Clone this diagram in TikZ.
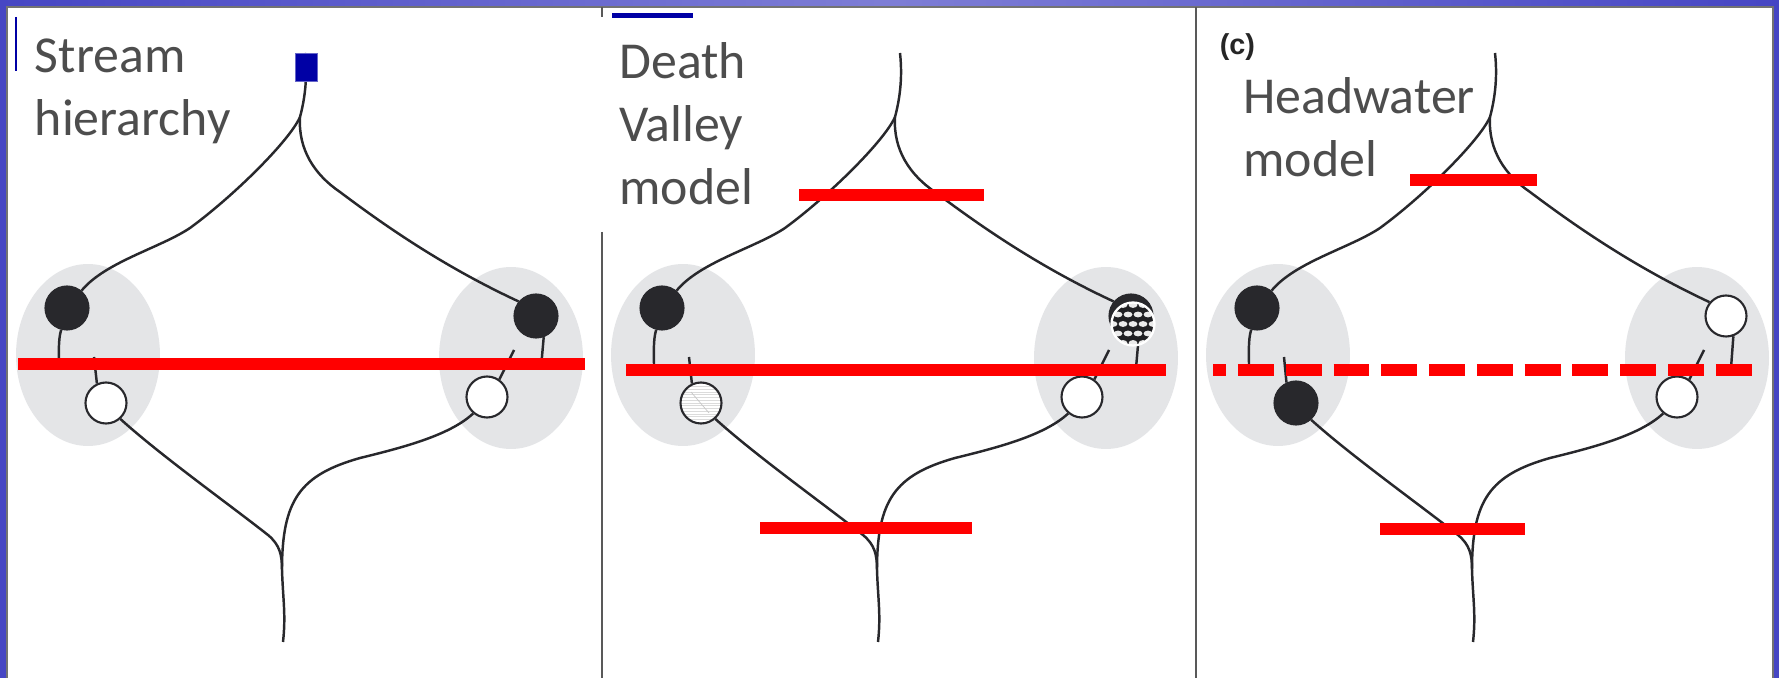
\documentclass[tikz,border=0pt]{standalone}
\usepackage{fontspec}
\newfontfamily\slidefont{Carlito}
\newfontfamily\panelfont{Liberation Sans}
\usetikzlibrary{shapes.geometric}
\definecolor{slideblue}{RGB}{70,70,196}
\definecolor{markblue}{RGB}{0,0,165}
\definecolor{lakegray}{RGB}{228,229,231}
\definecolor{inkgray}{RGB}{40,40,44}
\definecolor{labelgray}{RGB}{77,77,77}
\definecolor{cutred}{RGB}{255,0,0}
\tikzset{
  lake/.style = {
    ellipse, fill=lakegray, inner sep=0pt,
    minimum width=2.88cm, minimum height=3.64cm,
  },
  blackdot/.style = {
    circle, draw=inkgray, fill=inkgray, line width=1.2pt,
    inner sep=0pt, minimum size=0.86cm,
  },
  whitedot/.style = {
    circle, draw=inkgray, fill=white, line width=1.2pt,
    inner sep=0pt, minimum size=0.82cm,
  },
  stripedot/.style = {
    whitedot,
    path picture={
      \foreach \k in {-7,...,7}
        \draw[black!14, line width=0.4pt]
          ([yshift=\k*0.055cm]path picture bounding box.west) --
          ([yshift=\k*0.055cm]path picture bounding box.east);
      \draw[black!22, line width=0.4pt]
        ([shift={(-0.2cm,0.22cm)}]path picture bounding box.center) --
        ([shift={(0.16cm,-0.2cm)}]path picture bounding box.center);
    },
  },
  meshdot/.style = {
    circle, draw=white, fill=inkgray!80!black, line width=1.3pt,
    inner sep=0pt, minimum size=0.86cm,
    path picture={
      \foreach \r in {-2,0,2} \foreach \c in {-2,...,2}
        \fill[black!8] ([shift={(\c*0.2cm,\r*0.19cm)}]path picture bounding box.center)
          ellipse [x radius=0.088cm, y radius=0.058cm];
      \foreach \r in {-1,1} \foreach \c in {-3,...,2}
        \fill[black!8] ([shift={(\c*0.2cm+0.1cm,\r*0.19cm)}]path picture bounding box.center)
          ellipse [x radius=0.088cm, y radius=0.058cm];
    },
  },
  gauge/.style = {
    rectangle, fill=markblue, draw=markblue!60!white, line width=0.5pt,
    inner sep=0pt, minimum width=0.44cm, minimum height=0.56cm,
  },
  stream/.style = {draw=inkgray, line width=1.4pt},
  barrier/.style = {draw=cutred, line width=6.8pt},
  divider/.style = {draw=black!65, line width=1.2pt},
  panellabel/.style = {
    anchor=base west, inner sep=0pt, align=left, text=labelgray,
    font=\slidefont\fontsize{29.5pt}{36pt}\selectfont,
  },
}

\begin{document}
\begin{tikzpicture}[x=0.02cm, y=-0.02cm]
    \useasboundingbox (0,0) rectangle (1779,678);
    % --- Slide background ---
    \shade[left color=slideblue, right color=slideblue, middle color=slideblue!70!white]
      (0,0) rectangle (1779,678);
    \filldraw[fill=white, draw=black!55, line width=0.8pt] (7,7) rectangle (1773,700);
    \draw[divider] (602,7) -- (602,17);
    \draw[divider] (602,232) -- (602,678);
    \draw[divider] (1196,7) -- (1196,678);

    % --- Panel a: stream hierarchy ---
    \node[lake] (a-lakeL) at (88,355) {};
    \node[lake] (a-lakeR) at (511,358) {};
    \coordinate (a-src)   at (305,53);
    \coordinate (a-fork)  at (300,117);
    \coordinate (a-join)  at (282,570);
    \coordinate (a-out)   at (283,642);
    \coordinate (a-tlEnd) at (59,366);
    \coordinate (a-blTop) at (94,357);
    \coordinate (a-trEnd) at (541,368);
    \coordinate (a-brTop) at (514,350);
    \node[blackdot] (a-tl) at (67,308) {};
    \node[whitedot] (a-bl) at (106,403) {};
    \node[blackdot] (a-tr) at (536,316) {};
    \node[whitedot] (a-br) at (487,397) {};
    \draw[stream] (a-src) .. controls (308,80) and (304,102) .. (a-fork);
    \draw[stream] (a-fork) .. controls (290,140) and (235,195) .. (190,228)
      .. controls (160,248) and (105,262) .. (a-tl.50);
    \draw[stream] (a-fork) .. controls (298,150) and (315,175) .. (340,192)
      .. controls (380,222) and (440,265) .. (a-tr.140);
    \draw[stream] (a-tl.255) .. controls (58,340) and (59,355) .. (a-tlEnd);
    \draw[stream] (a-blTop) -- (a-bl.115);
    \draw[stream] (a-tr.290) -- (a-trEnd);
    \draw[stream] (a-brTop) -- (a-br.55);
    \draw[stream] (a-bl.-48) .. controls (160,455) and (230,505) .. (268,535)
      .. controls (280,545) and (282,555) .. (a-join);
    \draw[stream] (a-br.-130) .. controls (450,435) and (405,447) .. (360,458)
      .. controls (300,475) and (282,500) .. (a-join);
    \draw[stream] (a-join) .. controls (283,600) and (286,615) .. (a-out);
    \draw[barrier] (18,364) -- (585,364);
    \node[gauge] (a-gauge) at (306,67) {};
    \draw[markblue, line width=1.1pt] (16,17) -- (16,71);
    \node[panellabel] (a-title) at (34.5,136) {Stream\\hierarchy};

    % --- Panel b: Death Valley model ---
    \begin{scope}[shift={(595,0)}]
      \node[lake] (b-lakeL) at (88,355) {};
      \node[lake] (b-lakeR) at (511,358) {};
      \coordinate (b-src)   at (305,53);
      \coordinate (b-fork)  at (300,117);
      \coordinate (b-join)  at (282,570);
      \coordinate (b-out)   at (283,642);
      \coordinate (b-tlEnd) at (59,366);
      \coordinate (b-blTop) at (94,357);
      \coordinate (b-trEnd) at (541,368);
      \coordinate (b-brTop) at (514,350);
      \node[blackdot]  (b-tl) at (67,308) {};
      \node[stripedot] (b-bl) at (106,403) {};
      \node[blackdot]  (b-tr) at (536,316) {};
      \node[whitedot]  (b-br) at (487,397) {};
      \draw[stream] (b-src) .. controls (308,80) and (304,102) .. (b-fork);
      \draw[stream] (b-fork) .. controls (290,140) and (235,195) .. (190,228)
        .. controls (160,248) and (105,262) .. (b-tl.50);
      \draw[stream] (b-fork) .. controls (298,150) and (315,175) .. (340,192)
        .. controls (380,222) and (440,265) .. (b-tr.140);
      \draw[stream] (b-tl.255) .. controls (58,340) and (59,355) .. (b-tlEnd);
      \draw[stream] (b-blTop) -- (b-bl.115);
      \draw[stream] (b-tr.290) -- (b-trEnd);
      \draw[stream] (b-brTop) -- (b-br.55);
      \draw[stream] (b-bl.-48) .. controls (160,455) and (230,505) .. (268,535)
        .. controls (280,545) and (282,555) .. (b-join);
      \draw[stream] (b-br.-130) .. controls (450,435) and (405,447) .. (360,458)
        .. controls (300,475) and (282,500) .. (b-join);
      \draw[stream] (b-join) .. controls (283,600) and (286,615) .. (b-out);
      \node[meshdot] (b-mesh) at (538,324) {};
      \draw[barrier] (204,195) -- (389,195);
      \draw[barrier] (31,370) -- (571,370);
      \draw[barrier] (165,528) -- (377,528);
      \draw[markblue, line width=2.8pt] (17,15.5) -- (98,15.5);
      \node[panellabel] (b-title) at (24,205) {Death\\Valley\\model};
    \end{scope}

    % --- Panel c: headwater model ---
    \begin{scope}[shift={(1190,0)}]
      \node[lake] (c-lakeL) at (88,355) {};
      \node[lake] (c-lakeR) at (507,358) {};
      \coordinate (c-src)   at (305,53);
      \coordinate (c-fork)  at (300,117);
      \coordinate (c-join)  at (282,570);
      \coordinate (c-out)   at (283,642);
      \coordinate (c-tlEnd) at (59,366);
      \coordinate (c-blTop) at (94,357);
      \coordinate (c-trEnd) at (541,368);
      \coordinate (c-brTop) at (514,350);
      \node[blackdot] (c-tl) at (67,308) {};
      \node[blackdot] (c-bl) at (106,403) {};
      \node[whitedot] (c-tr) at (536,316) {};
      \node[whitedot] (c-br) at (487,397) {};
      \draw[stream] (c-src) .. controls (308,80) and (304,102) .. (c-fork);
      \draw[stream] (c-fork) .. controls (290,140) and (235,195) .. (190,228)
        .. controls (160,248) and (105,262) .. (c-tl.50);
      \draw[stream] (c-fork) .. controls (298,150) and (315,175) .. (340,192)
        .. controls (380,222) and (440,265) .. (c-tr.140);
      \draw[stream] (c-tl.255) .. controls (58,340) and (59,355) .. (c-tlEnd);
      \draw[stream] (c-blTop) -- (c-bl.115);
      \draw[stream] (c-tr.290) -- (c-trEnd);
      \draw[stream] (c-brTop) -- (c-br.55);
      \draw[stream] (c-bl.-48) .. controls (160,455) and (230,505) .. (268,535)
        .. controls (280,545) and (282,555) .. (c-join);
      \draw[stream] (c-br.-130) .. controls (450,435) and (405,447) .. (360,458)
        .. controls (300,475) and (282,500) .. (c-join);
      \draw[stream] (c-join) .. controls (283,600) and (286,615) .. (c-out);
      \draw[barrier] (220,180) -- (347,180);
      \draw[barrier, dash pattern=on 20.4pt off 6.8pt, dash phase=13pt] (23,370) -- (564,370);
      \draw[barrier] (190,529) -- (335,529);
      \node[anchor=base west, inner sep=0pt, text=black!85,
            font=\panelfont\bfseries\fontsize{16.4pt}{20pt}\selectfont] (c-tag) at (29.5,55) {(c)};
      \node[panellabel] (c-title) at (53,177) {Headwater\\model};
    \end{scope}
  \end{tikzpicture}
\end{document}
